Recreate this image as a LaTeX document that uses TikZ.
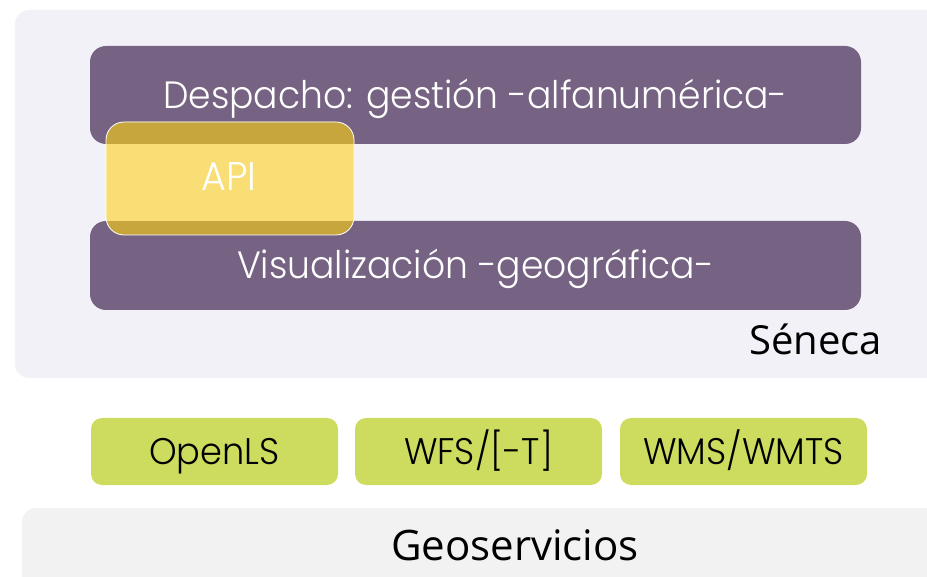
\documentclass[tikz,border=0pt]{standalone}
\usepackage{fontspec}
\newfontfamily\geofont[FakeStretch=0.95]{Poppins Light}
\newfontfamily\labelfont{Open Sans}
\definecolor{senecabg}{HTML}{F2F1F7}
\definecolor{geobg}{HTML}{F2F2F2}
\definecolor{plum}{HTML}{766282}
\definecolor{apiyellow}{HTML}{F8DE74}
\definecolor{apidark}{HTML}{C8A63E}
\definecolor{lime}{HTML}{CDDC5F}
\tikzset{
  layer/.style={fill=plum, rounded corners=16pt, minimum width=771pt, text=white,
    font=\geofont\fontsize{38}{44}\selectfont, inner sep=0pt, text height=27pt, text depth=0pt},
  service/.style={fill=lime, rounded corners=11pt, minimum width=247pt, minimum height=67pt,
    font=\geofont\fontsize{37}{44}\selectfont, inner sep=0pt, text height=26pt, text depth=0pt},
  area/.style={font=\labelfont\fontsize{40}{46}\selectfont, inner sep=0pt, anchor=base}
}
\begin{document}
\begin{tikzpicture}[x=1pt, y=-1pt]
  \useasboundingbox (0,0) rectangle (927,577);
  \clip (0,0) rectangle (927,577);
  % backgrounds
  \fill[senecabg, rounded corners=14pt] (15,10) rectangle (960,378);
  \fill[geobg, rounded corners=14pt] (22,508) rectangle (960,620);
  % layers
  \draw
    (475.5,95) node[layer, minimum height=98pt] (despacho){Despacho: gesti\'on -alfanum\'erica-}
    (475.5,265.5) node[layer, minimum height=89pt] (visual){Visualizaci\'on -geogr\'afica-};
  % API over both layers
  \fill[apiyellow, rounded corners=18pt] (106,122) rectangle (354,235);
  \begin{scope}
    \clip[rounded corners=18pt] (106,122) rectangle (354,235);
    \fill[apidark] (despacho.north west) rectangle (despacho.south east);
    \fill[apidark] (visual.north west) rectangle (visual.south east);
  \end{scope}
  \draw[white, line width=0.8pt, rounded corners=18pt] (106,122) rectangle (354,235);
  \node[text=white, font=\geofont\fontsize{40}{44}\selectfont, text height=28pt, text depth=0pt,
    inner sep=0pt] (api) at (229,177) {API};
  \node[area] (seneca) at (815.5,355) {S\'eneca};
  % services
  \draw
    (214.5,451.5) node[service] (openls){OpenLS}
    (478.5,451.5) node[service] (wfs){WFS/[-T]}
    (743.5,451.5) node[service] (wms){WMS/WMTS};
  \node[area, font=\labelfont\fontsize{42}{48}\selectfont] (geo) at (515,560) {Geoservicios};
\end{tikzpicture}
\end{document}
